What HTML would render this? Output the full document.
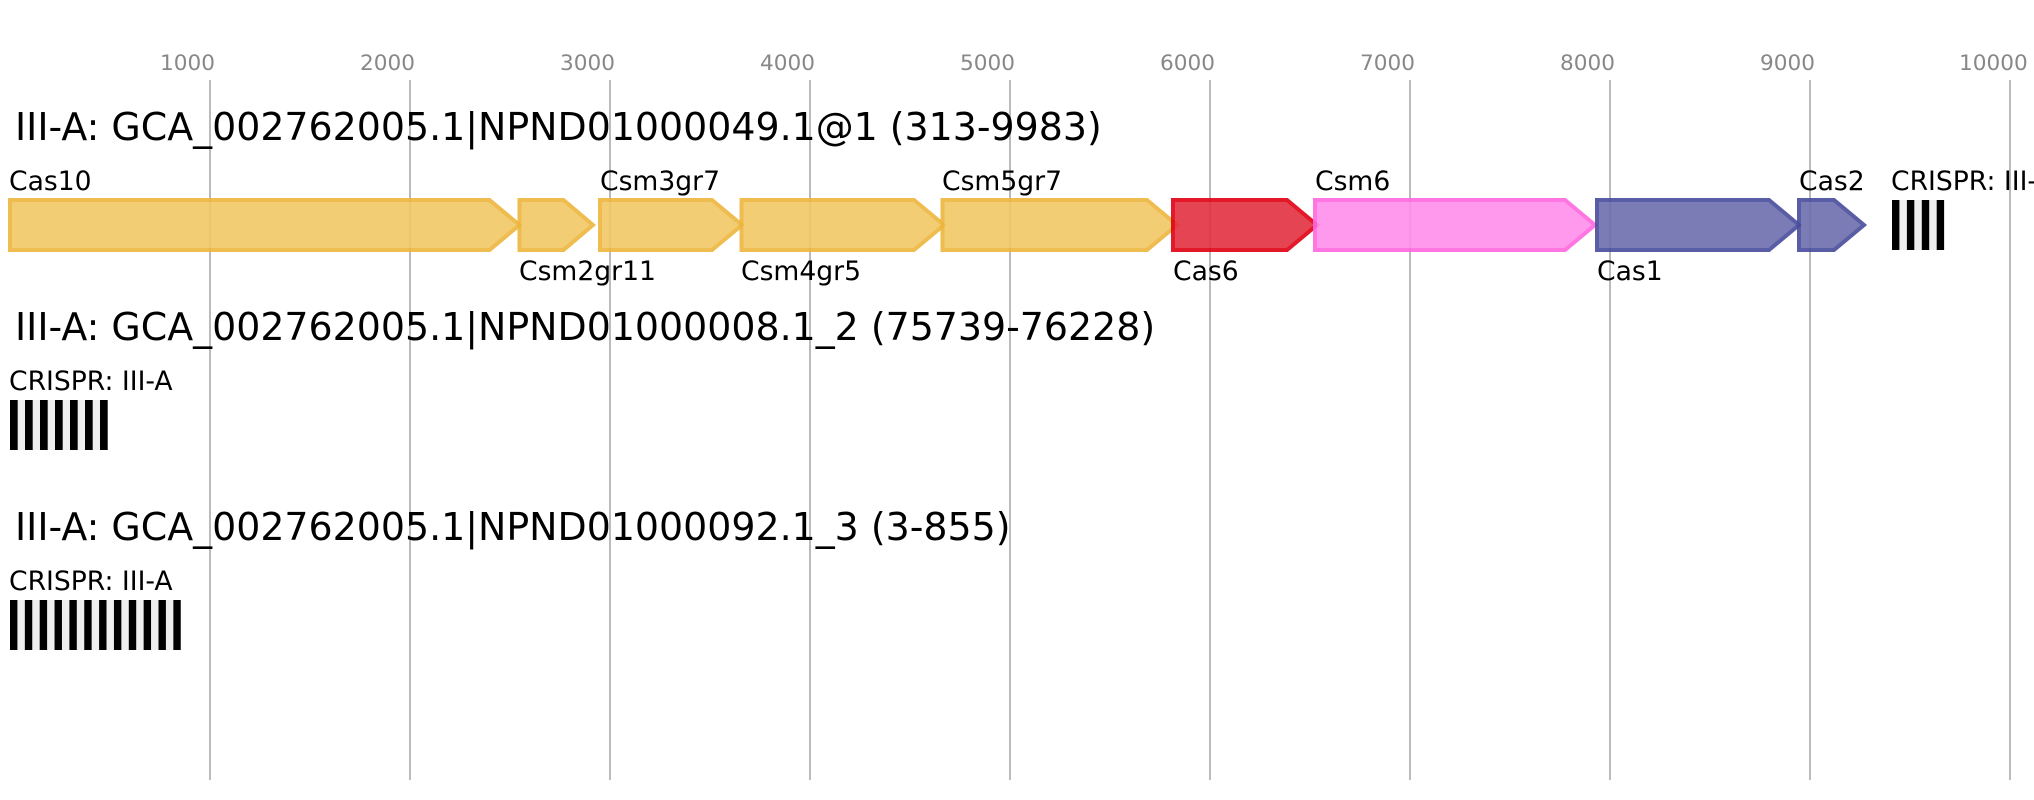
<!DOCTYPE html>
<html>
<head>
<meta charset="utf-8">
<style>
html,body{margin:0;padding:0;background:#fff}
svg{display:block}
text{font-family:"DejaVu Sans",sans-serif}
.t{font-size:21.6px;fill:#888}
.h{font-size:37.9px;fill:#000}
.l{font-size:26.6px;fill:#000}
.o{fill:rgb(241,200,100);stroke:rgb(238,181,60)}
.r{fill:rgb(227,48,64);stroke:rgb(224,1,20)}
.p{fill:rgb(255,142,236);stroke:rgb(255,104,224)}
.b{fill:rgb(109,110,173);stroke:rgb(72,76,156)}
polygon{stroke-width:4;opacity:.9;stroke-miterlimit:10}
</style>
</head>
<body>
<svg xmlns="http://www.w3.org/2000/svg" width="2034" height="800" viewBox="0 0 2034 800">
<rect width="2034" height="800" fill="#fff"/>
<g stroke="#bbb" stroke-width="2">
<line x1="210" y1="80" x2="210" y2="780"/>
<line x1="410" y1="80" x2="410" y2="780"/>
<line x1="610" y1="80" x2="610" y2="780"/>
<line x1="810" y1="80" x2="810" y2="780"/>
<line x1="1010" y1="80" x2="1010" y2="780"/>
<line x1="1210" y1="80" x2="1210" y2="780"/>
<line x1="1410" y1="80" x2="1410" y2="780"/>
<line x1="1610" y1="80" x2="1610" y2="780"/>
<line x1="1810" y1="80" x2="1810" y2="780"/>
<line x1="2010" y1="80" x2="2010" y2="780"/>
</g>
<g class="t">
<text class="t" x="160" y="70">1000</text>
<text class="t" x="360" y="70">2000</text>
<text class="t" x="560" y="70">3000</text>
<text class="t" x="760" y="70">4000</text>
<text class="t" x="960" y="70">5000</text>
<text class="t" x="1160" y="70">6000</text>
<text class="t" x="1360" y="70">7000</text>
<text class="t" x="1560" y="70">8000</text>
<text class="t" x="1760" y="70">9000</text>
<text class="t" x="1959" y="70">10000</text>
</g>
<text class="h" x="15" y="140">III-A: GCA_002762005.1|NPND01000049.1@1 (313-9983)</text>
<text class="h" x="15" y="340">III-A: GCA_002762005.1|NPND01000008.1_2 (75739-76228)</text>
<text class="h" x="15" y="540">III-A: GCA_002762005.1|NPND01000092.1_3 (3-855)</text>

<polygon class="o" points="10,200 489.5,200 519.5,225 489.5,250 10,250"/>
<polygon class="o" points="519.5,200 563.5,200 593,225 563.5,250 519.5,250"/>
<polygon class="o" points="600,200 712,200 742,225 712,250 600,250"/>
<polygon class="o" points="741.5,200 914,200 944,225 914,250 741.5,250"/>
<polygon class="o" points="942.5,200 1147,200 1177,225 1147,250 942.5,250"/>
<polygon class="r" points="1173,200 1287,200 1317,225 1287,250 1173,250"/>
<polygon class="p" points="1315,200 1565,200 1595,225 1565,250 1315,250"/>
<polygon class="b" points="1597,200 1769,200 1799,225 1769,250 1597,250"/>
<polygon class="b" points="1799,200 1834,200 1864,225 1834,250 1799,250"/>

<text class="l" x="9" y="190">Cas10</text>
<text class="l" x="519" y="280">Csm2gr11</text>
<text class="l" x="600" y="190">Csm3gr7</text>
<text class="l" x="741" y="280">Csm4gr5</text>
<text class="l" x="942" y="190">Csm5gr7</text>
<text class="l" x="1173" y="280">Cas6</text>
<text class="l" x="1315" y="190">Csm6</text>
<text class="l" x="1597" y="280">Cas1</text>
<text class="l" x="1799" y="190">Cas2</text>
<text class="l" x="1891" y="190">CRISPR: III-A</text>
<text class="l" x="9" y="390">CRISPR: III-A</text>
<text class="l" x="9" y="590">CRISPR: III-A</text>

<rect x="1892" y="200" width="52.2" height="50" fill="#eee"/>
<g fill="#000">
<rect x="1892" y="200" width="7.4" height="50"/>
<rect x="1906.9" y="200" width="7.4" height="50"/>
<rect x="1921.8" y="200" width="7.4" height="50"/>
<rect x="1936.7" y="200" width="7.4" height="50"/>
</g>

<rect x="10" y="400" width="98" height="50" fill="#eee"/>
<g fill="#000">
<rect x="10" y="400" width="7.7" height="50"/>
<rect x="25" y="400" width="7.7" height="50"/>
<rect x="40" y="400" width="7.7" height="50"/>
<rect x="55" y="400" width="7.7" height="50"/>
<rect x="70" y="400" width="7.7" height="50"/>
<rect x="85" y="400" width="7.7" height="50"/>
<rect x="100" y="400" width="7.7" height="50"/>
</g>

<rect x="10" y="600" width="170.6" height="50" fill="#eee"/>
<g fill="#000">
<rect x="10" y="600" width="7.4" height="50"/>
<rect x="24.85" y="600" width="7.4" height="50"/>
<rect x="39.7" y="600" width="7.4" height="50"/>
<rect x="54.55" y="600" width="7.4" height="50"/>
<rect x="69.4" y="600" width="7.4" height="50"/>
<rect x="84.25" y="600" width="7.4" height="50"/>
<rect x="99.1" y="600" width="7.4" height="50"/>
<rect x="113.95" y="600" width="7.4" height="50"/>
<rect x="128.8" y="600" width="7.4" height="50"/>
<rect x="143.65" y="600" width="7.4" height="50"/>
<rect x="158.5" y="600" width="7.4" height="50"/>
<rect x="173.35" y="600" width="7.4" height="50"/>
</g>
</svg>
</body>
</html>
